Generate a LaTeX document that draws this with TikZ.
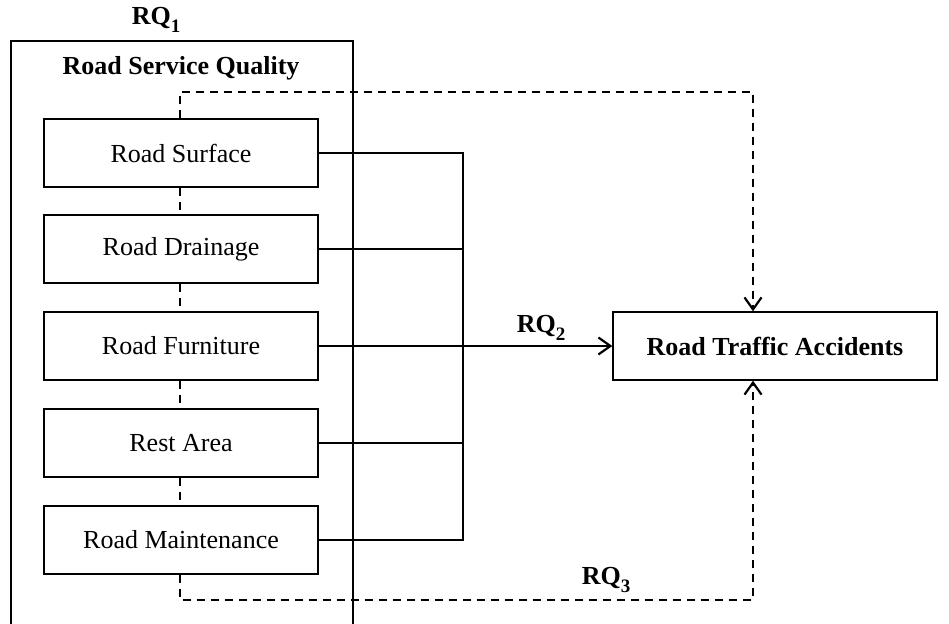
\documentclass[tikz,border=0pt]{standalone}
\usepackage{fontspec}
\setmainfont{Liberation Serif}
\usetikzlibrary{arrows.meta}
\newcommand{\rqsub}[1]{\raisebox{-0.28em}{\fontsize{19}{19}\selectfont #1}}
\begin{document}
\begin{tikzpicture}[x=1pt,y=-1pt,
  txt/.style={font=\fontsize{26}{30}\selectfont},
  btxt/.style={font=\fontsize{26}{30}\selectfont\bfseries},
  sub/.style={draw,line width=1.4pt,minimum width=274pt,minimum height=68pt,inner sep=0pt,txt},
  conn/.style={line width=2.2pt},
  dconn/.style={line width=2.2pt,dash pattern=on 8pt off 6pt},
  tip/.style={-{Straight Barb[length=12pt,width=17pt,line width=2.2pt]}}
]
\useasboundingbox (0,0) rectangle (949,623);
\node[draw,line width=2.2pt,minimum width=342pt,minimum height=600pt,inner sep=0pt] (outer) at (182,341) {};
\node[btxt] (rq1) at (156,20) {RQ\rqsub{1}};
\node[btxt] (title) at (181,68) {Road Service Quality};
\node[sub] (surf) at (181,153) {Road Surface};
\node[sub] (drain) at (181,249) {Road Drainage};
\node[sub] (furn) at (181,346) {Road Furniture};
\node[sub] (rest) at (181,443) {Rest Area};
\node[sub] (maint) at (181,540) {Road Maintenance};
\node[draw,line width=1.4pt,minimum width=324pt,minimum height=68pt,inner sep=0pt,btxt] (rta) at (775,346) {Road Traffic Accidents};
\node[btxt] (rq2) at (541,328) {RQ\rqsub{2}};
\node[btxt] (rq3) at (606,580) {RQ\rqsub{3}};
% bus
\coordinate (b1) at (463,153);
\coordinate (b2) at (463,249);
\coordinate (b4) at (463,443);
\coordinate (b5) at (463,540);
\draw[conn] (surf.east) -- (b1) -- (b5) -- (maint.east);
\draw[conn] (drain.east) -- (b2);
\draw[conn] (rest.east) -- (b4);
\draw[conn,tip] (furn.east) -- (rta.west);
% dashed
\draw[dconn] ([xshift=-1pt]surf.south) -- ([xshift=-1pt]drain.north);
\draw[dconn] ([xshift=-1pt]drain.south) -- ([xshift=-1pt]furn.north);
\draw[dconn] ([xshift=-1pt]furn.south) -- ([xshift=-1pt]rest.north);
\draw[dconn] ([xshift=-1pt]rest.south) -- ([xshift=-1pt]maint.north);
\coordinate (t1) at (180,92);
\coordinate (t2) at (753,92);
\coordinate (u1) at (180,600);
\coordinate (u2) at (753,600);
\draw[dconn,tip] ([xshift=-1pt]surf.north) -- (t1) -- (t2) -- (t2 |- rta.north);
\draw[dconn,tip] ([xshift=-1pt]maint.south) -- (u1) -- (u2) -- (u2 |- rta.south);
\end{tikzpicture}
\end{document}
